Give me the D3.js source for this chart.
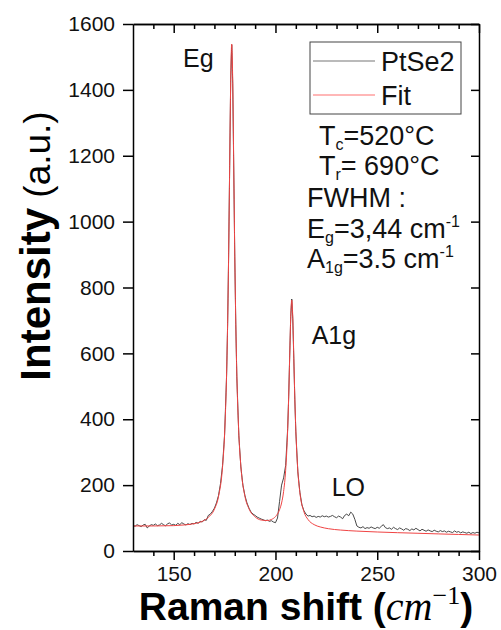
<!DOCTYPE html>
<html>
<head>
<meta charset="utf-8">
<script src="https://cdn.jsdelivr.net/npm/d3@7"></script>
<style>
  body { margin: 0; background: #fff; }
  svg { display: block; font-family: "Liberation Sans", Arial, sans-serif; }
  .axis text { font-size: 21px; fill: #111; }
  .axis path, .axis line { stroke: #000; stroke-width: 1.5; }
</style>
</head>
<body>
<svg id="chart" width="501" height="630"></svg>
<script>
// measured spectrum, [Raman shift (cm-1), intensity]
const ptse2Points = [
  [130,78],[131,75],[132,80],[133,77],[134,74],[135,79],[136,81],[137,70],[138,76],[139,80],
  [140,78],[141,82],[142,77],[143,79],[144,84],[145,80],[146,76],[147,83],[148,85],[149,79],
  [150,81],[151,78],[152,84],[153,80],[154,86],[155,82],[156,79],[157,83],[158,80],[159,84],
  [160,82],[161,87],[162,84],[163,90],[164,88],[165,95],[166,93],[167,108],[168,112],[169,120],
  [170,130],[171,146],[172,168],[173,205],[174,260],[175,352],[176,535],[176.5,690],[177,905],
  [177.5,1170],[178,1430],[178.5,1537],[179,1420],[179.5,1160],[180,895],[180.5,688],[181,530],
  [182,350],[183,255],[184,200],[185,168],[186,146],[187,130],[188,118],[189,112],[190,108],
  [191,103],[192,100],[193,97],[194,95],[195,92],[196,94],[197,90],[198,92],[199,88],[200,86],
  [201,100],[202,150],[203,200],[204,222],[205,260],[206,372],[206.5,470],[207,595],[207.5,712],
  [208,765],[208.5,705],[209,585],[209.5,460],[210,362],[211,240],[212,178],[213,140],[214,122],
  [215,112],[216,106],[217,108],[218,104],[219,106],[220,102],[221,105],[222,103],[223,107],
  [224,104],[225,106],[226,103],[227,105],[228,108],[229,104],[230,101],[231,106],[232,103],
  [233,98],[234,108],[235,112],[236,107],[237,118],[238,112],[239,96],[240,76],[241,72],
  [242,70],[243,74],[244,68],[245,71],[246,69],[247,73],[248,70],[249,68],[250,72],[251,69],
  [252,75],[253,80],[254,71],[255,68],[256,70],[257,66],[258,72],[259,68],[260,65],[261,70],
  [262,67],[263,63],[264,68],[265,66],[266,62],[267,67],[268,64],[269,69],[270,65],[271,61],
  [272,66],[273,63],[274,60],[275,64],[276,61],[277,59],[278,63],[279,60],[280,58],[281,62],
  [282,59],[283,61],[284,57],[285,60],[286,58],[287,56],[288,61],[289,57],[290,59],[291,55],
  [292,58],[293,56],[294,54],[295,57],[296,53],[297,56],[298,54],[299,57],[300,55]
];

// fitted curve
const fitPoints = [
  [130,76],[140,76],[150,77],[155,79],[160,83],[164,90],[167,102],[170,127],[172,165],
  [174,256],[175,355],[176,541],[176.5,694],[177,904],[177.5,1168],[178,1425],[178.5,1539],
  [179,1425],[179.5,1168],[180,904],[180.5,694],[181,541],[182,355],[183,257],[185,166],
  [187,128],[190,103.5],[193,94],[196,92.5],[198,95.7],[200,104.4],[202,125.3],[203,145.8],
  [204,181],[205,245],[206,369.5],[206.5,468.4],[207,591.6],[207.5,710],[208,762],
  [208.5,709.4],[209,590.6],[209.5,467],[210,367.6],[211,242],[212,177],[214,119],[216,95.6],
  [219,80],[222,73],[226,67.7],[232,63.6],[240,60.4],[250,57.7],[260,55.6],[270,53.8],
  [280,51.9],[290,50.2],[300,48.5]
];

const xMajorTicks = [150, 200, 250, 300];
const xMinorTicks = [140, 160, 170, 180, 190, 210, 220, 230, 240, 260, 270, 280, 290];
const yTicks = [0, 200, 400, 600, 800, 1000, 1200, 1400, 1600];

const peakLabels = [
  { text: "Eg", x: 154.6, y: 1469 },
  { text: "A1g", x: 217.8, y: 628 },
  { text: "LO", x: 227.6, y: 167 }
];

const seriesNames = ["PtSe2", "Fit"];
const seriesColors = ["#333333", "#f04444"];

const svg = d3.select("#chart");
const margin = { left: 133, right: 479, top: 24, bottom: 551 };

const x = d3.scaleLinear().domain([130, 300]).range([margin.left, margin.right]);
const y = d3.scaleLinear().domain([0, 1600]).range([margin.bottom, margin.top]);

// clip the curves to the frame
svg.append("clipPath").attr("id", "plotClip")
  .append("rect")
  .attr("x", margin.left).attr("y", margin.top - 2)
  .attr("width", margin.right - margin.left + 2)
  .attr("height", margin.bottom - margin.top + 2);

const dataLine = d3.line().x(d => x(d[0])).y(d => y(d[1]));
const fitLine = d3.line().x(d => x(d[0])).y(d => y(d[1])).curve(d3.curveMonotoneX);

svg.append("path")
  .datum(ptse2Points)
  .attr("clip-path", "url(#plotClip)")
  .attr("fill", "none")
  .attr("stroke", seriesColors[0])
  .attr("stroke-width", 0.9)
  .attr("d", dataLine);

svg.append("path")
  .datum(fitPoints)
  .attr("clip-path", "url(#plotClip)")
  .attr("fill", "none")
  .attr("stroke", seriesColors[1])
  .attr("stroke-width", 1)
  .attr("d", fitLine);

// axes: left/bottom outward ticks with labels, top/right inward ticks
svg.append("g").attr("class", "axis")
  .attr("transform", `translate(0,${margin.bottom})`)
  .call(d3.axisBottom(x).tickValues(xMajorTicks).tickSize(9).tickSizeOuter(0).tickPadding(6));
svg.append("g").attr("class", "axis")
  .attr("transform", `translate(0,${margin.bottom})`)
  .call(d3.axisBottom(x).tickValues(xMinorTicks).tickSize(5).tickSizeOuter(0).tickFormat(""));

svg.append("g").attr("class", "axis")
  .attr("transform", `translate(0,${margin.top})`)
  .call(d3.axisBottom(x).tickValues(xMajorTicks).tickSize(9).tickSizeOuter(0).tickFormat(""));
svg.append("g").attr("class", "axis")
  .attr("transform", `translate(0,${margin.top})`)
  .call(d3.axisBottom(x).tickValues(xMinorTicks).tickSize(5).tickSizeOuter(0).tickFormat(""));

svg.append("g").attr("class", "axis")
  .attr("transform", `translate(${margin.left},0)`)
  .call(d3.axisLeft(y).tickValues(yTicks).tickSize(10).tickSizeOuter(0).tickPadding(8)
    .tickFormat(d3.format("d")));

svg.append("g").attr("class", "axis")
  .attr("transform", `translate(${margin.right},0)`)
  .call(d3.axisLeft(y).tickValues(yTicks).tickSize(8).tickSizeOuter(0).tickFormat(""));

// peak labels
svg.append("g").selectAll("text")
  .data(peakLabels)
  .join("text")
  .attr("x", d => x(d.x))
  .attr("y", d => y(d.y))
  .attr("font-size", 25)
  .attr("fill", "#111")
  .text(d => d.text);

// legend
const legend = svg.append("g").attr("transform", "translate(310,42)");
legend.append("rect")
  .attr("width", 151).attr("height", 72)
  .attr("fill", "#fff").attr("stroke", "#444").attr("stroke-width", 1);
seriesNames.forEach((name, i) => {
  const ly = 19 + i * 34;
  legend.append("line")
    .attr("x1", 3).attr("x2", 65).attr("y1", ly).attr("y2", ly)
    .attr("stroke", i === 0 ? "#777" : "#ff7070").attr("stroke-width", 1.2);
  legend.append("text")
    .attr("x", 71).attr("y", ly + 10)
    .attr("font-size", 27).attr("fill", "#111")
    .text(name);
});

// growth conditions and FWHM
const info = svg.append("g").attr("font-size", 27).attr("fill", "#111");
function addLine(xPos, yPos, parts) {
  const t = info.append("text").attr("x", xPos).attr("y", yPos);
  let shift = 0;
  parts.forEach(p => {
    const span = t.append("tspan").text(p.t);
    const want = p.sub ? 5 : p.sup ? -11 : 0;
    if (want !== shift) span.attr("dy", want - shift);
    shift = want;
    if (p.sub || p.sup) span.attr("font-size", 16);
  });
}
addLine(319, 145, [{ t: "T" }, { t: "c", sub: true }, { t: "=520°C" }]);
addLine(319, 175, [{ t: "T" }, { t: "r", sub: true }, { t: "= 690°C" }]);
addLine(307, 207, [{ t: "FWHM :" }]);
addLine(307, 238, [{ t: "E" }, { t: "g", sub: true }, { t: "=3,44 cm" }, { t: "-1", sup: true }]);
addLine(307, 268, [{ t: "A" }, { t: "1g", sub: true }, { t: "=3.5 cm" }, { t: "-1", sup: true }]);

// axis titles
svg.append("text")
  .attr("transform", "translate(50,246) rotate(-90)")
  .attr("text-anchor", "middle")
  .attr("fill", "#000")
  .call(t => {
    t.append("tspan").attr("font-size", 42).attr("font-weight", "bold").text("Intensity");
    t.append("tspan").attr("font-size", 37).text(" (a.u.)");
  });

svg.append("text")
  .attr("x", 306).attr("y", 620)
  .attr("text-anchor", "middle")
  .attr("fill", "#000")
  .call(t => {
    t.append("tspan").attr("font-size", 39).attr("font-weight", "bold").text("Raman shift (");
    t.append("tspan").attr("font-size", 40).attr("font-style", "italic")
      .attr("font-family", "'Liberation Serif', 'DejaVu Serif', serif").text("cm");
    t.append("tspan").attr("font-size", 26).attr("dy", -16)
      .attr("font-family", "'Liberation Serif', 'DejaVu Serif', serif").text("−1");
    t.append("tspan").attr("font-size", 39).attr("font-weight", "bold").attr("dy", 16).text(")");
  });
</script>
</body>
</html>
